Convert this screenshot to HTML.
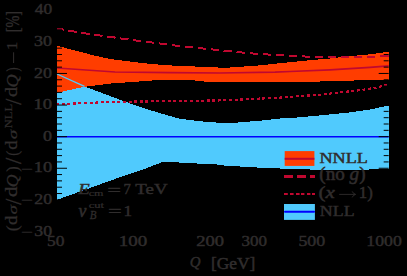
<!DOCTYPE html>
<html><head><meta charset="utf-8"><style>
html,body{margin:0;padding:0;background:#000;}
svg{display:block;}
text{font-family:"Liberation Serif",serif;font-size:15px;fill:#302d2d;stroke:#302d2d;}
</style></head><body>
<svg width="407" height="276" viewBox="0 0 407 276">
<rect width="407" height="276" fill="#000"/>
<polygon points="57.0,74.0 80.0,84.4 84.5,86.4 100.0,92.3 120.0,99.7 140.0,107.0 160.0,113.2 180.0,118.8 190.0,120.0 205.0,121.7 225.0,123.2 240.0,122.4 260.0,120.7 280.0,118.5 300.0,117.3 320.0,115.4 335.0,113.9 350.0,112.4 370.0,109.5 388.7,105.5 388.7,168.8 360.0,169.8 320.0,170.1 300.0,168.9 270.0,168.3 250.0,167.1 225.0,165.6 215.0,164.3 195.0,163.4 170.0,162.0 163.0,161.9 140.0,170.6 115.0,179.0 85.0,189.8 57.0,199.8" fill="#50cafd" shape-rendering="crispEdges"/>
<polygon points="57.0,45.8 95.0,55.7 110.0,59.0 135.0,62.2 150.0,63.8 165.0,65.2 190.0,66.3 215.0,67.3 225.0,67.9 240.0,66.8 260.0,65.4 280.0,63.2 290.0,62.2 310.0,60.2 330.0,58.5 350.0,56.1 370.0,54.3 388.7,51.8 388.7,80.4 325.0,80.6 320.0,81.6 280.0,81.8 205.0,81.8 200.0,80.6 165.0,79.9 150.0,80.6 135.0,81.8 110.0,83.6 90.0,86.2 84.5,86.7 57.0,92.8" fill="#ff3d00" shape-rendering="crispEdges"/>
<polyline points="57.0,74.0 80.0,84.4 84.5,86.4" fill="none" stroke="#50cafd" stroke-width="1.2"/>
<line x1="57" y1="136.65" x2="388.7" y2="136.65" stroke="#0000ff" stroke-width="1.5"/>
<polyline points="57.0,68.0 115.0,72.0 170.0,72.6 220.0,73.0 275.0,72.1 290.0,71.5 330.0,69.8 370.0,67.3 388.7,65.8" fill="none" stroke="#c00830" stroke-width="1.7"/>
<polyline points="57.0,28.7 60.5,29.1 72.5,31.3 85.5,33.4 98.5,35.3 111.0,37.0 124.0,38.9 137.0,40.6 150.0,42.3 163.0,43.9 175.0,45.5 190.0,47.1 203.0,48.5 215.0,49.7 228.0,51.1 240.0,52.3 253.0,53.5 266.0,54.4 280.0,55.2 292.0,55.9 305.0,56.5 318.0,56.9 330.0,57.0 350.0,56.9 370.0,56.6 388.7,56.3" fill="none" stroke="#c00830" stroke-width="2" stroke-dasharray="8.6 4.45" stroke-dashoffset="1.6" shape-rendering="crispEdges"/>
<polyline points="57.0,104.3 115.0,101.8 140.0,101.5 170.0,101.2 225.0,100.3 280.0,97.6 300.0,96.1 320.0,94.7 335.0,93.0 360.0,90.2 375.0,87.8 388.7,84.5" fill="none" stroke="#c00830" stroke-width="2.2" stroke-dasharray="3 2.58" stroke-dashoffset="0.9" shape-rendering="crispEdges"/>
<path d="M57 231.45h10M388.7 231.45h-10M57 225.13h5M388.7 225.13h-5M57 218.81h5M388.7 218.81h-5M57 212.49h5M388.7 212.49h-5M57 206.17h5M388.7 206.17h-5M57 199.85h10M388.7 199.85h-10M57 193.53h5M388.7 193.53h-5M57 187.21h5M388.7 187.21h-5M57 180.89h5M388.7 180.89h-5M57 174.57h5M388.7 174.57h-5M57 168.25h10M388.7 168.25h-10M57 161.93h5M388.7 161.93h-5M57 155.61h5M388.7 155.61h-5M57 149.29h5M388.7 149.29h-5M57 142.97h5M388.7 142.97h-5M57 136.65h10M388.7 136.65h-10M57 130.33h5M388.7 130.33h-5M57 124.01h5M388.7 124.01h-5M57 117.69h5M388.7 117.69h-5M57 111.37h5M388.7 111.37h-5M57 105.05h10M388.7 105.05h-10M57 98.73h5M388.7 98.73h-5M57 92.41h5M388.7 92.41h-5M57 86.09h5M388.7 86.09h-5M57 79.77h5M388.7 79.77h-5M57 73.45h10M388.7 73.45h-10M57 67.13h5M388.7 67.13h-5M57 60.81h5M388.7 60.81h-5M57 54.49h5M388.7 54.49h-5M57 48.17h5M388.7 48.17h-5M57 41.85h10M388.7 41.85h-10M57 35.53h5M388.7 35.53h-5M57 29.21h5M388.7 29.21h-5M57 22.89h5M388.7 22.89h-5M57 16.57h5M388.7 16.57h-5M57 10.25h10M388.7 10.25h-10" stroke="#000" stroke-width="1"/>
<rect x="284.7" y="151.1" width="29.7" height="14.8" fill="#ff3d00"/>
<rect x="284.7" y="157.8" width="29.7" height="2" fill="#c00830"/>
<path d="M284 174.9h9v3h-9zM297 174.9h9v3h-9zM310 174.9h5v3h-5z" fill="#c00830"/>
<path d="M284 193h3.8v2h-3.8zM290 193h3.6v2h-3.6zM296 193h3.6v2h-3.6zM301 193h3.4v2h-3.4zM307 193h3.4v2h-3.4zM312 193h3v2h-3z" fill="#c00830"/>
<rect x="284" y="204" width="30.9" height="15.9" fill="#50cafd"/>
<line x1="285" y1="211.8" x2="314" y2="211.8" stroke="#0000ff" stroke-width="2" stroke-linecap="round"/>
<rect x="13.1" y="52.3" width="1.0" height="10.7" fill="#302d2d"/>
<path d="M339.2 194.4H355.4M352.2 191.4Q353.2 193.8 355.6 194.4Q353.2 195 352.2 197.4" fill="none" stroke="#302d2d" stroke-width="0.9"/>
<text transform="translate(34.90,226.15) scale(1.1860,0.9524) translate(-0.50,10.00) " style="stroke-width:0.45px" xml:space="preserve">30</text>
<text transform="translate(21.90,231.50) scale(1.4000,0.8000) translate(-0.50,5.50) " style="stroke-width:0.3px" xml:space="preserve">−</text>
<text transform="translate(34.90,194.55) scale(1.1860,0.9524) translate(-0.50,10.00) " style="stroke-width:0.45px" xml:space="preserve">20</text>
<text transform="translate(21.90,199.90) scale(1.4000,0.8000) translate(-0.50,5.50) " style="stroke-width:0.3px" xml:space="preserve">−</text>
<text transform="translate(34.90,162.95) scale(1.2291,0.9524) translate(-1.00,10.00) " style="stroke-width:0.45px" xml:space="preserve">10</text>
<text transform="translate(21.90,168.30) scale(1.4000,0.8000) translate(-0.50,5.50) " style="stroke-width:0.3px" xml:space="preserve">−</text>
<text transform="translate(43.30,131.35) scale(1.2000,0.9524) translate(-0.25,10.00) " style="stroke-width:0.45px" xml:space="preserve">0</text>
<text transform="translate(34.70,99.75) scale(1.2436,0.9524) translate(-1.00,10.00) " style="stroke-width:0.45px" xml:space="preserve">10</text>
<text transform="translate(34.70,68.15) scale(1.2000,0.9524) translate(-0.50,10.00) " style="stroke-width:0.45px" xml:space="preserve">20</text>
<text transform="translate(34.70,36.55) scale(1.2000,0.9524) translate(-0.50,10.00) " style="stroke-width:0.45px" xml:space="preserve">30</text>
<text transform="translate(34.70,4.95) scale(1.1593,0.9524) translate(-0.00,10.00) " style="stroke-width:0.45px" xml:space="preserve">40</text>
<text transform="translate(47.70,236.70) scale(1.1649,0.9238) translate(-0.50,10.00) " style="stroke-width:0.45px" xml:space="preserve">50</text>
<text transform="translate(120.10,236.70) scale(1.2659,0.9238) translate(-1.00,10.00) " style="stroke-width:0.45px" xml:space="preserve">100</text>
<text transform="translate(196.80,236.70) scale(1.2368,0.9238) translate(-0.50,10.00) " style="stroke-width:0.45px" xml:space="preserve">200</text>
<text transform="translate(242.00,236.70) scale(1.1356,0.9238) translate(-0.50,10.00) " style="stroke-width:0.45px" xml:space="preserve">300</text>
<text transform="translate(299.00,236.70) scale(1.1954,0.9238) translate(-0.50,10.00) " style="stroke-width:0.45px" xml:space="preserve">500</text>
<text transform="translate(367.50,236.70) scale(1.1826,0.9238) translate(-1.00,10.00) " style="stroke-width:0.45px" xml:space="preserve">1000</text>
<text transform="translate(190.20,257.30) scale(0.9951,1.0196) translate(-0.50,10.00) " style="stroke-width:0.45px" xml:space="preserve"><tspan font-style="italic">Q</tspan></text>
<text transform="translate(211.80,256.20) scale(1.1592,1.1843) translate(-0.75,10.50) " style="stroke-width:0.45px" xml:space="preserve">[GeV]</text>
<text transform="translate(77.70,183.90) scale(1.2513,0.9659) translate(0.50,10.00) " style="stroke-width:0.45px" xml:space="preserve"><tspan font-style="italic">E</tspan></text>
<text transform="translate(88.90,191.90) scale(0.8056,0.5655) translate(-0.25,7.00) " style="stroke-width:0.35px" xml:space="preserve">cm</text>
<text transform="translate(108.00,188.20) scale(1.6267,1.1059) translate(-0.50,7.00) " style="stroke-width:0.3px" xml:space="preserve">=</text>
<text transform="translate(124.30,184.00) scale(0.9846,0.9854) translate(-0.75,10.00) " style="stroke-width:0.45px" xml:space="preserve">7</text>
<text transform="translate(135.30,184.00) scale(1.2621,0.9810) translate(-0.00,10.00) " style="stroke-width:0.45px" xml:space="preserve">TeV</text>
<text transform="translate(78.50,208.00) scale(1.1857,1.2800) translate(-0.00,7.00) " style="stroke-width:0.45px" xml:space="preserve"><tspan font-style="italic">v</tspan></text>
<text transform="translate(88.90,203.00) scale(0.8384,0.5714) translate(-0.25,8.50) " style="stroke-width:0.35px" xml:space="preserve">cut</text>
<text transform="translate(89.70,211.00) scale(0.7333,0.8000) translate(-0.00,10.00) " style="stroke-width:0.35px" xml:space="preserve"><tspan font-style="italic">B</tspan></text>
<text transform="translate(108.80,209.40) scale(1.6267,1.1059) translate(-0.50,7.00) " style="stroke-width:0.3px" xml:space="preserve">=</text>
<text transform="translate(124.70,206.20) scale(1.1478,0.9561) translate(-1.00,10.00) " style="stroke-width:0.45px" xml:space="preserve">1</text>
<text transform="translate(319.70,153.50) scale(1.2154,0.9854) translate(-0.25,10.00) " style="stroke-width:0.45px" xml:space="preserve">NNLL</text>
<text transform="translate(320.00,167.60) scale(1.2738,1.1860) translate(-0.50,10.75) " style="stroke-width:0.45px" xml:space="preserve">(no <tspan font-style="italic">g</tspan>)</text>
<text transform="translate(319.30,185.90) scale(1.3956,1.1088) translate(-0.50,10.75) " style="stroke-width:0.45px" xml:space="preserve">(<tspan font-style="italic">x</tspan></text>
<text transform="translate(359.90,185.90) scale(1.1182,1.1088) translate(-1.00,10.75) " style="stroke-width:0.45px" xml:space="preserve">1)</text>
<text transform="translate(320.10,206.70) scale(1.1929,0.9463) translate(-0.25,10.00) " style="stroke-width:0.45px" xml:space="preserve">NLL</text>
<text transform="translate(5.20,225.60) scale(1.1782,1.1765) translate(10.50,4.75) rotate(-90)" style="stroke-width:0.25px" xml:space="preserve">(</text>
<text transform="translate(6.20,215.60) scale(1.0698,1.2571) translate(10.50,7.50) rotate(-90)" style="stroke-width:0.25px" xml:space="preserve">d</text>
<text transform="translate(10.50,204.40) scale(0.8727,1.2774) translate(7.75,8.00) rotate(-90)" style="stroke-width:0.25px" xml:space="preserve"><tspan font-style="italic">σ</tspan></text>
<text transform="translate(5.20,198.50) scale(1.5805,1.4667) translate(10.00,4.25) rotate(-90)" style="stroke-width:0.25px" xml:space="preserve">/</text>
<text transform="translate(6.20,186.60) scale(1.0698,1.4000) translate(10.50,7.50) rotate(-90)" style="stroke-width:0.25px" xml:space="preserve">d</text>
<text transform="translate(6.20,174.50) scale(1.1440,1.1800) translate(10.00,10.75) rotate(-90)" style="stroke-width:0.25px" xml:space="preserve"><tspan font-style="italic">Q</tspan></text>
<text transform="translate(5.20,166.90) scale(1.1782,1.0824) translate(10.50,4.50) rotate(-90)" style="stroke-width:0.25px" xml:space="preserve">)</text>
<text transform="translate(5.20,157.70) scale(1.5805,1.4889) translate(10.00,4.25) rotate(-90)" style="stroke-width:0.25px" xml:space="preserve">/</text>
<text transform="translate(5.20,151.10) scale(1.1782,0.9647) translate(10.50,4.75) rotate(-90)" style="stroke-width:0.25px" xml:space="preserve">(</text>
<text transform="translate(6.20,140.50) scale(1.0698,1.2429) translate(10.50,7.50) rotate(-90)" style="stroke-width:0.25px" xml:space="preserve">d</text>
<text transform="translate(10.50,129.10) scale(0.8727,1.2774) translate(7.75,8.00) rotate(-90)" style="stroke-width:0.25px" xml:space="preserve"><tspan font-style="italic">σ</tspan></text>
<text transform="translate(4.50,104.40) scale(0.7122,0.8389) translate(10.00,28.50) rotate(-90)" style="stroke-width:0.25px" xml:space="preserve">NLL</text>
<text transform="translate(5.20,98.50) scale(1.5805,1.4667) translate(10.00,4.25) rotate(-90)" style="stroke-width:0.25px" xml:space="preserve">/</text>
<text transform="translate(6.20,87.00) scale(1.0698,1.3429) translate(10.50,7.50) rotate(-90)" style="stroke-width:0.25px" xml:space="preserve">d</text>
<text transform="translate(6.20,74.50) scale(1.1440,1.2100) translate(10.00,10.75) rotate(-90)" style="stroke-width:0.25px" xml:space="preserve"><tspan font-style="italic">Q</tspan></text>
<text transform="translate(5.20,67.70) scale(1.1782,0.8235) translate(10.50,4.50) rotate(-90)" style="stroke-width:0.25px" xml:space="preserve">)</text>
<text transform="translate(7.30,42.50) scale(1.0146,1.1091) translate(10.00,6.75) rotate(-90)" style="stroke-width:0.25px" xml:space="preserve">1</text>
<text transform="translate(5.20,11.80) scale(1.2706,0.9561) translate(10.50,21.50) rotate(-90)" style="stroke-width:0.25px" xml:space="preserve">[%]</text>
</svg></body></html>
